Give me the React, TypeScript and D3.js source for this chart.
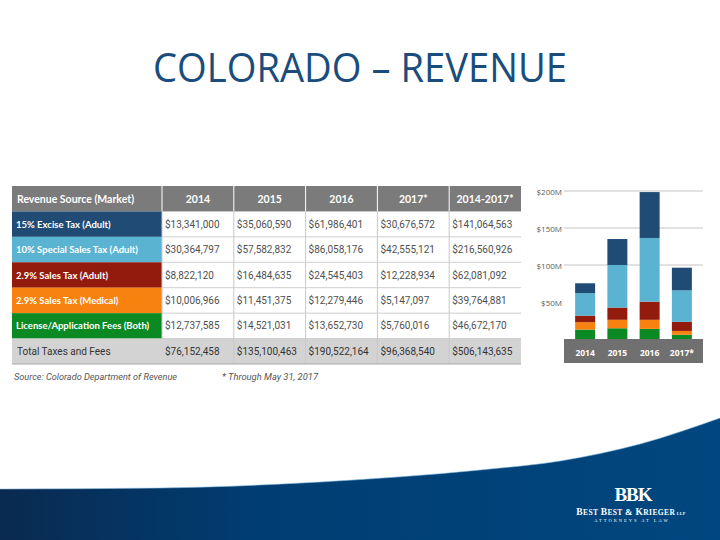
import * as d3 from "d3";

// ---- data ----
const years = ["2014", "2015", "2016", "2017*"];
const tableHeaders = ["Revenue Source (Market)", "2014", "2015", "2016", "2017*", "2014-2017*"];
const sourceLabels = [
  "15% Excise Tax (Adult)",
  "10% Special Sales Tax (Adult)",
  "2.9% Sales Tax (Adult)",
  "2.9% Sales Tax (Medical)",
  "License/Application Fees (Both)",
];
const sourceKeys = ["excise", "special", "salesAdult", "salesMedical", "license"];
const exciseTax = [13341000, 35060590, 61986401, 30676572];
const specialSalesTax = [30364797, 57582832, 86058176, 42555121];
const salesTaxAdult = [8822120, 16484635, 24545403, 12228934];
const salesTaxMedical = [10006966, 11451375, 12279446, 5147097];
const licenseFees = [12737585, 14521031, 13652730, 5760016];
const yearTotals = [76152458, 135100463, 190522164, 96368540];
const cumulative = [141064563, 216560926, 62081092, 39764881, 46672170, 506143635];
const totalLabel = "Total Taxes and Fees";
const yTicks = [50e6, 100e6, 150e6, 200e6];

const sourceColors = ["#1f4b74", "#59b3d1", "#931b0e", "#f7820f", "#0b8a24"];

const series = [exciseTax, specialSalesTax, salesTaxAdult, salesTaxMedical, licenseFees];

const fmt = d3.format("$,");

// outline of the footer wave (slide decoration)
const waveEdge: [number, number][] = [
  [0, 489],
  [160, 488],
  [320, 482],
  [480, 470],
  [560, 461],
  [640, 444],
  [720, 418],
];

export default function App() {
  // table layout
  const tableLeft = 12;
  const labelW = 150;
  const tableRight = 521;
  const rowKeys = ["head", ...sourceKeys, "total"];
  const rowY = d3.scaleBand().domain(rowKeys).range([186, 364]);
  const colX = d3.scaleBand().domain(tableHeaders.slice(1)).range([tableLeft + labelW, tableRight]);

  const rows = sourceLabels.map((label, i) => ({
    key: sourceKeys[i],
    label,
    values: [...series[i], cumulative[i]],
    color: sourceColors[i],
  }));
  const totalValues = [...yearTotals, cumulative[5]];

  // chart layout
  const x = d3.scaleBand().domain(years).range([569, 698]).paddingInner(0.38).paddingOuter(0.19);
  const y = d3.scaleLinear().domain([0, 200e6]).range([339, 191]);
  const stackRows = years.map((yr, j) => {
    const o: any = { year: yr };
    sourceKeys.forEach((k, i) => (o[k] = series[i][j]));
    return o;
  });
  const stacked = d3.stack().keys([...sourceKeys].reverse())(stackRows);
  const colorOf = (k: string) => sourceColors[sourceKeys.indexOf(k)];

  const edge = d3.line().curve(d3.curveMonotoneX)(waveEdge)!;
  const wave = edge + "L720,540L0,540Z";

  return (
    <div style={{ position: "fixed", left: 0, top: 0 }}>
      <svg width={720} height={540} style={{ display: "block", background: "#fff" }}>
        <defs>
          <linearGradient id="band" x1="0" x2="1" y1="0" y2="0">
            <stop offset="0" stopColor="#0a2a50" />
            <stop offset="0.35" stopColor="#003d72" />
            <stop offset="1" stopColor="#01477f" />
          </linearGradient>
        </defs>

        <text
          x={360}
          y={82}
          textAnchor="middle"
          fontFamily="'Open Sans', sans-serif"
          fontWeight={400}
          fontSize={40}
          fill="#1a4d7c"
          textLength={414}
          lengthAdjust="spacingAndGlyphs"
        >
          COLORADO – REVENUE
        </text>

        {/* table */}
        <g fontFamily="Roboto, sans-serif">
          <rect x={tableLeft} y={rowY("head")} width={tableRight - tableLeft} height={rowY.bandwidth()} fill="#7b7b7b" />
          <text
            x={tableLeft + 5}
            y={rowY("head")! + rowY.bandwidth() / 2}
            dominantBaseline="central"
            fill="#fff"
            fontFamily="Lato, sans-serif"
            fontWeight="bold"
            fontSize={10.5}
          >
            {tableHeaders[0]}
          </text>
          {tableHeaders.slice(1).map((h) => (
            <g key={h}>
              <line x1={colX(h)} x2={colX(h)} y1={rowY("head")} y2={rowY("head")! + rowY.bandwidth()} stroke="#fff" />
              <text
                x={colX(h)! + colX.bandwidth() / 2}
                y={rowY("head")! + rowY.bandwidth() / 2}
                textAnchor="middle"
                dominantBaseline="central"
                fill="#fff"
                fontFamily="Lato, sans-serif"
                fontWeight="bold"
                fontSize={10.5}
              >
                {h}
              </text>
            </g>
          ))}

          {rows.map((r) => {
            const y0 = rowY(r.key)!;
            const cy = y0 + rowY.bandwidth() / 2;
            return (
              <g key={r.key}>
                <rect x={tableLeft} y={y0} width={labelW} height={rowY.bandwidth()} fill={r.color} />
                <text
                  x={tableLeft + 4}
                  y={cy}
                  dominantBaseline="central"
                  fill="#fff"
                  fontFamily="Lato, sans-serif"
                  fontWeight="bold"
                  fontSize={9.5}
                >
                  {r.label}
                </text>
                {r.values.map((v, j) => (
                  <text key={j} x={colX(tableHeaders[j + 1])! + 3} y={cy} dominantBaseline="central" fill="#505050" fontSize={10}>
                    {fmt(v)}
                  </text>
                ))}
                <line x1={tableLeft + labelW} x2={tableRight} y1={y0 + rowY.bandwidth()} y2={y0 + rowY.bandwidth()} stroke="#cfcfcf" />
              </g>
            );
          })}

          <rect x={tableLeft} y={rowY("total")} width={tableRight - tableLeft} height={rowY.bandwidth()} fill="#d3d3d3" />
          <text x={tableLeft + 5} y={rowY("total")! + rowY.bandwidth() / 2} dominantBaseline="central" fill="#333" fontSize={10}>
            {totalLabel}
          </text>
          {totalValues.map((v, j) => (
            <text
              key={j}
              x={colX(tableHeaders[j + 1])! + 3}
              y={rowY("total")! + rowY.bandwidth() / 2}
              dominantBaseline="central"
              fill="#333"
              fontSize={10}
            >
              {fmt(v)}
            </text>
          ))}
          {tableHeaders.slice(2).map((h) => (
            <line key={h} x1={colX(h)} x2={colX(h)} y1={rowY(sourceKeys[0])} y2={364} stroke="#c8c8c8" />
          ))}
          <line x1={tableLeft + labelW} x2={tableLeft + labelW} y1={rowY(sourceKeys[0])} y2={rowY("total")} stroke="#c8c8c8" />
          <line x1={tableLeft} x2={tableRight} y1={364} y2={364} stroke="#aaa" />

          <text x={14} y={380} fill="#555" fontSize={9.5} fontStyle="italic" textLength={163} lengthAdjust="spacingAndGlyphs">
            Source: Colorado Department of Revenue
          </text>
          <text x={222} y={380} fill="#555" fontSize={9.5} fontStyle="italic" textLength={96} lengthAdjust="spacingAndGlyphs">
            * Through May 31, 2017
          </text>
        </g>

        {/* stacked bar chart */}
        <g fontFamily="'Open Sans', sans-serif">
          {yTicks.map((t) => (
            <g key={t}>
              {t >= 100e6 && <line x1={564} x2={703} y1={y(t)} y2={y(t)} stroke="#c4c4c4" />}
              <text x={562} y={y(t)} textAnchor="end" dominantBaseline="central" fontSize={8} fill="#595959">
                {`$${t / 1e6}M`}
              </text>
            </g>
          ))}
          {stacked.map((layer) => (
            <g key={layer.key} fill={colorOf(layer.key)}>
              {layer.map((d, j) => (
                <rect key={j} x={x(years[j])} y={y(d[1])} width={x.bandwidth()} height={y(d[0]) - y(d[1])} />
              ))}
            </g>
          ))}
          <rect x={564} y={y(0)} width={139} height={24} fill="#707070" />
          {years.map((yr) => (
            <text
              key={yr}
              x={x(yr)! + x.bandwidth() / 2}
              y={y(0) + 13}
              textAnchor="middle"
              dominantBaseline="central"
              fontSize={8.5}
              fontWeight="bold"
              fill="#fff"
            >
              {yr}
            </text>
          ))}
        </g>

        {/* footer band and logo */}
        <path d={wave} fill="url(#band)" />
        <path d={edge} fill="none" stroke="#8fc3e6" strokeWidth={0.8} opacity={0.7} />
        <g fill="#fff" fontFamily="'Liberation Serif', serif" textAnchor="middle">
          <text x={633} y={501} fontSize={19} fontWeight="bold" letterSpacing={-1}>
            BBK
          </text>
          <text x={631} y={515} fontWeight="bold" letterSpacing={0.4}>
            <tspan fontSize={9.5}>B</tspan>
            <tspan fontSize={7.5}>EST </tspan>
            <tspan fontSize={9.5}>B</tspan>
            <tspan fontSize={7.5}>EST </tspan>
            <tspan fontSize={9}>&amp; </tspan>
            <tspan fontSize={9.5}>K</tspan>
            <tspan fontSize={7.5}>RIEGER</tspan>
            <tspan fontSize={4}> LLP</tspan>
          </text>
          <text x={632} y={522} fontSize={4.5} letterSpacing={2}>
            ATTORNEYS AT LAW
          </text>
        </g>
      </svg>
    </div>
  );
}
